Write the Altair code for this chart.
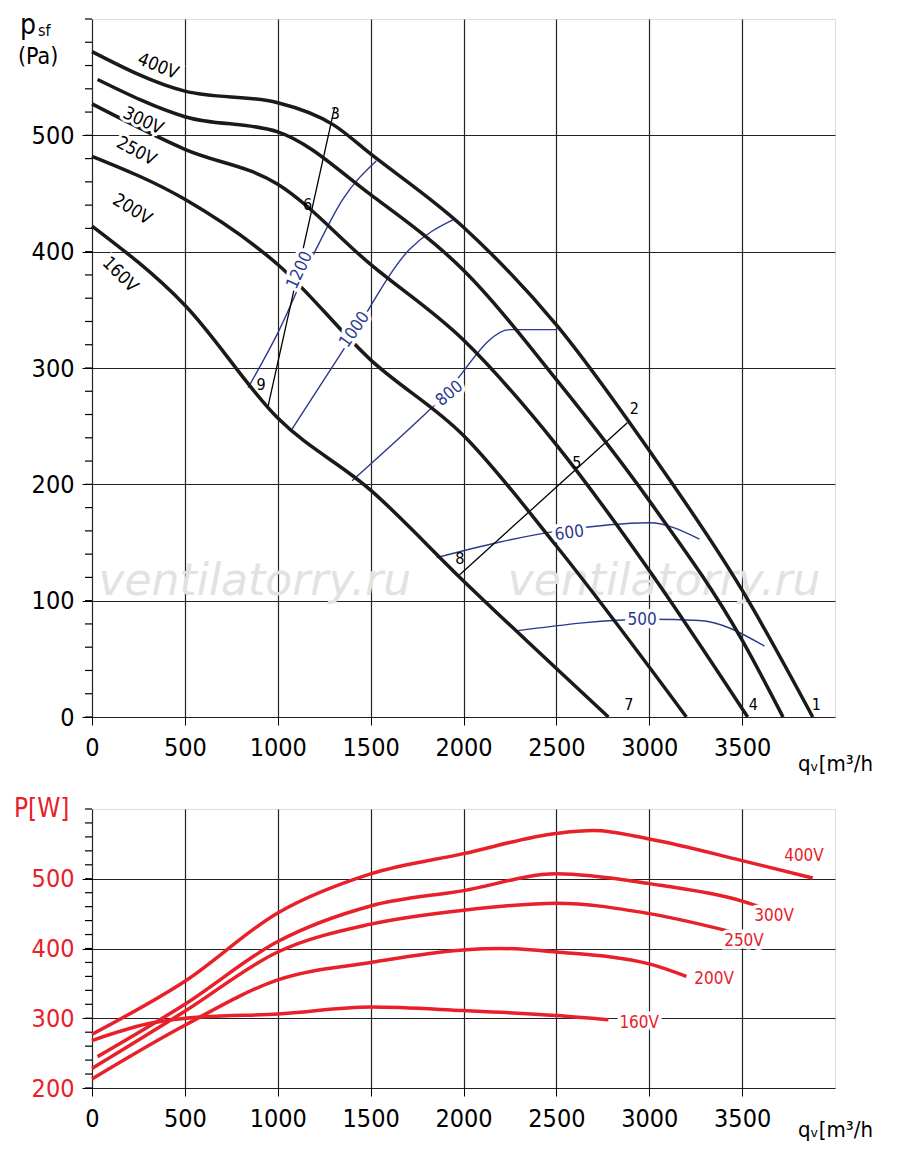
import altair as alt
import pandas as pd

F = "'DejaVu Sans Condensed', 'Liberation Sans Narrow', sans-serif"
# pressure curves
p400_q = [0, 500, 1000, 1300, 1500, 2000, 2500, 3000, 3500, 3880]
p400_p = [572, 538, 528, 509, 484, 421, 337, 229, 109, 0]
p300_q = [30, 500, 1000, 1500, 2000, 2500, 3000, 3500, 3720]
p300_p = [548, 516, 503, 449, 384, 290, 186, 66, 0]
p250_q = [0, 500, 1000, 1500, 2000, 2500, 3000, 3530]
p250_p = [527, 488, 458, 389, 324, 234, 126, 0]
p200_q = [0, 500, 1000, 1500, 2000, 2500, 3200]
p200_p = [482, 445, 389, 307, 242, 147, 0]
p160_q = [0, 500, 1000, 1500, 2000, 2780]
p160_p = [422, 354, 257, 195, 117, 0]

# speed curves (rpm)
n1200_q = [840, 1000, 1200, 1350, 1530]
n1200_p = [283, 330, 400, 445, 478]
n1000_q = [1075, 1387, 1710, 1950]
n1000_p = [247, 324, 402, 428]
n800_q = [1400, 1870, 2250, 2500]
n800_p = [203, 272, 333, 333]
n600_q = [1855, 2515, 3000, 3270]
n600_p = [137, 160, 167, 153]
n500_q = [2285, 3000, 3270, 3620]
n500_p = [74, 84, 83, 61]

# power curves
w400_q = [0, 500, 1000, 1500, 2000, 2500, 2700, 3000, 3500, 3880]
w400_w = [277, 353, 451, 507, 536, 565, 569, 557, 526, 501]
w300_q = [30, 500, 1000, 1500, 2000, 2500, 3000, 3500, 3720]
w300_w = [245, 320, 410, 461, 483, 507, 493, 468, 448]
w250_q = [0, 500, 1000, 1500, 2000, 2500, 3000, 3530]
w250_w = [228, 310, 395, 435, 455, 465, 450, 418]
w200_q = [0, 500, 1000, 1500, 2000, 2200, 2500, 3000, 3200]
w200_w = [213, 290, 355, 380, 398, 400, 395, 378, 360]
w160_q = [0, 300, 600, 1000, 1500, 2000, 2500, 2780]
w160_w = [268, 292, 302, 306, 316, 311, 304, 298]

def df(qs, vs, name, key="v"):
    return pd.DataFrame({"q": qs, key: vs, "s": name})

pres = pd.concat([df(p400_q, p400_p, "400V"), df(p300_q, p300_p, "300V"),
                  df(p250_q, p250_p, "250V"), df(p200_q, p200_p, "200V"),
                  df(p160_q, p160_p, "160V")])
rpm = pd.concat([df(n1200_q, n1200_p, "1200"), df(n1000_q, n1000_p, "1000"),
                 df(n800_q, n800_p, "800"), df(n600_q, n600_p, "600"),
                 df(n500_q, n500_p, "500")])
powr = pd.concat([df(w400_q, w400_w, "400V"), df(w300_q, w300_w, "300V"),
                  df(w250_q, w250_w, "250V"), df(w200_q, w200_w, "200V"),
                  df(w160_q, w160_w, "160V")])

op_lines = pd.DataFrame({"q": [945, 1306, 1978, 2882], "v": [265, 524, 122, 253], "s": ["a", "a", "b", "b"]})
pt_lab = pd.DataFrame({"q": [3900, 3560, 2890, 2920, 2610, 1980, 1310, 1160, 910],
                       "v": [10, 10, 10, 265, 218, 136, 518, 440, 285],
                       "t": ["1", "4", "7", "2", "5", "8", "3", "6", "9"]})
curve_lab = pd.DataFrame({"q": [355, 274, 237, 215, 150], "v": [559, 512, 486, 436, 380],
                          "t": ["400V", "300V", "250V", "200V", "160V"], "a": [22, 25, 28, 32, 45]})
rpm_lab = pd.DataFrame({"q": [1118, 1414, 1925, 2570, 2962], "v": [384, 333, 278, 158, 83],
                        "t": ["1200", "1000", "800", "600", "500"], "a": [-65, -55, -40, -8, 0]})
wm = pd.DataFrame({"q": [876, 3080], "v": [116, 116], "t": ["ventilatorry.ru", "ventilatorry.ru"]})
minor_top = pd.DataFrame({"v": list(range(0, 601, 20))})
minor_bot = pd.DataFrame({"v": list(range(200, 601, 20))})
w_lab = pd.DataFrame({"q": [3833, 3672, 3510, 3349, 2946], "v": [533, 447, 411, 356, 293],
                      "t": ["400V", "300V", "250V", "200V", "160V"]})

xs = alt.Scale(domain=[0, 4000], nice=False)
xax = alt.Axis(values=list(range(0, 4000, 500)), format="d", title=None, labelFontSize=25, labelFont=F,
               labelFontWeight="normal", labelColor="black", labelPadding=10, tickSize=8, tickColor="black",
               domain=False, grid=True, gridColor="#222", gridWidth=1.2, labelFlush=False)
ys1 = alt.Scale(domain=[0, 600], nice=False)
yax1 = alt.Axis(values=list(range(0, 600, 100)), format="d", title=None, labelFontSize=25, labelFont=F,
                labelFontWeight="normal", labelColor="black", labelPadding=8, tickSize=10, tickColor="black",
                domain=False, grid=True, gridColor="#222", gridWidth=1.2)
X = alt.X("q:Q", scale=xs, axis=xax)
Y1 = alt.Y("v:Q", scale=ys1, axis=yax1)

def txt(d, **kw):
    kw.setdefault("font", F)
    kw.setdefault("fontWeight", "normal")
    return alt.Chart(d).mark_text(**kw)

top_lines = alt.Chart(pres).mark_line(color="#1a1a1a", strokeWidth=3.5, interpolate="monotone").encode(X, Y1, detail="s:N")
blue = alt.Chart(rpm).mark_line(color="#2b3990", strokeWidth=1.4, interpolate="monotone").encode(X, Y1, detail="s:N")
thin = alt.Chart(op_lines).mark_line(color="black", strokeWidth=1.3).encode(X, Y1, detail="s:N")
ptl = txt(pt_lab, fontSize=16, color="black").encode(X, Y1, text="t:N")
A = alt.Angle("a:Q", scale=None)
cl_bg = txt(curve_lab, fontSize=18, stroke="white", strokeWidth=6, color="white").encode(X, Y1, text="t:N", angle=A)
cl = txt(curve_lab, fontSize=18, color="black").encode(X, Y1, text="t:N", angle=A)
rl_bg = txt(rpm_lab, fontSize=17, stroke="white", strokeWidth=7, color="white").encode(X, Y1, text="t:N", angle=A)
rl = txt(rpm_lab, fontSize=17, color="#2b3990").encode(X, Y1, text="t:N", angle=A)
wmk = txt(wm, fontSize=44, font="DejaVu Sans", fontStyle="italic", color="#e2e2e2").encode(X, Y1, text="t:N")
mt = alt.Chart(minor_top).mark_rule(color="black", strokeWidth=1.2).encode(y=alt.Y("v:Q", scale=ys1), x=alt.value(-7), x2=alt.value(0))
one = pd.DataFrame({"k": [0]})
t_p = txt(one, text="p", fontSize=28, align="left", color="black").encode(x=alt.value(-72), y=alt.value(7))
t_sf = txt(one, text="sf", fontSize=16, align="left", color="black").encode(x=alt.value(-54), y=alt.value(12))
t_pa = txt(one, text="(Pa)", fontSize=23, align="left", color="black").encode(x=alt.value(-74), y=alt.value(38))
t_q = txt(one, text="qᵥ[m³/h", fontSize=22, align="left", color="black").encode(x=alt.value(706), y=alt.value(745))

top = alt.layer(wmk, blue, thin, top_lines, cl_bg, cl, rl_bg, rl, ptl, mt, t_p, t_sf, t_pa, t_q).properties(width=743, height=698)

red = "#e8202a"
ys2 = alt.Scale(domain=[200, 600], nice=False)
yax2 = alt.Axis(values=list(range(200, 600, 100)), format="d", title=None, labelFontSize=25, labelFont=F,
                labelFontWeight="normal", labelColor=red, labelPadding=8, tickSize=10, tickColor="black",
                domain=False, grid=True, gridColor="#222", gridWidth=1.2)
Y2 = alt.Y("v:Q", scale=ys2, axis=yax2)
pw = alt.Chart(powr).mark_line(color=red, strokeWidth=3.5, interpolate="monotone").encode(X, Y2, detail="s:N")
wl_bg = txt(w_lab, fontSize=17, stroke="white", strokeWidth=7, color="white").encode(X, Y2, text="t:N")
wl = txt(w_lab, fontSize=17, color=red).encode(X, Y2, text="t:N")
mb = alt.Chart(minor_bot).mark_rule(color="black", strokeWidth=1.2).encode(y=alt.Y("v:Q", scale=ys2), x=alt.value(-7), x2=alt.value(0))
t_w = txt(one, text="P[W]", fontSize=26, align="left", color=red).encode(x=alt.value(-78), y=alt.value(0))
t_q2 = txt(one, text="qᵥ[m³/h", fontSize=22, align="left", color="black").encode(x=alt.value(706), y=alt.value(321))
bot = alt.layer(pw, wl_bg, wl, mb, t_w, t_q2).properties(width=743, height=279)

chart = alt.vconcat(top, bot, spacing=19).properties(padding={"left": 5, "top": 3, "right": 0, "bottom": 0}).configure_view(stroke="black", strokeWidth=1.5).configure(background="white")
chart.save("out.html", embed_options={"renderer": "svg", "actions": False})
